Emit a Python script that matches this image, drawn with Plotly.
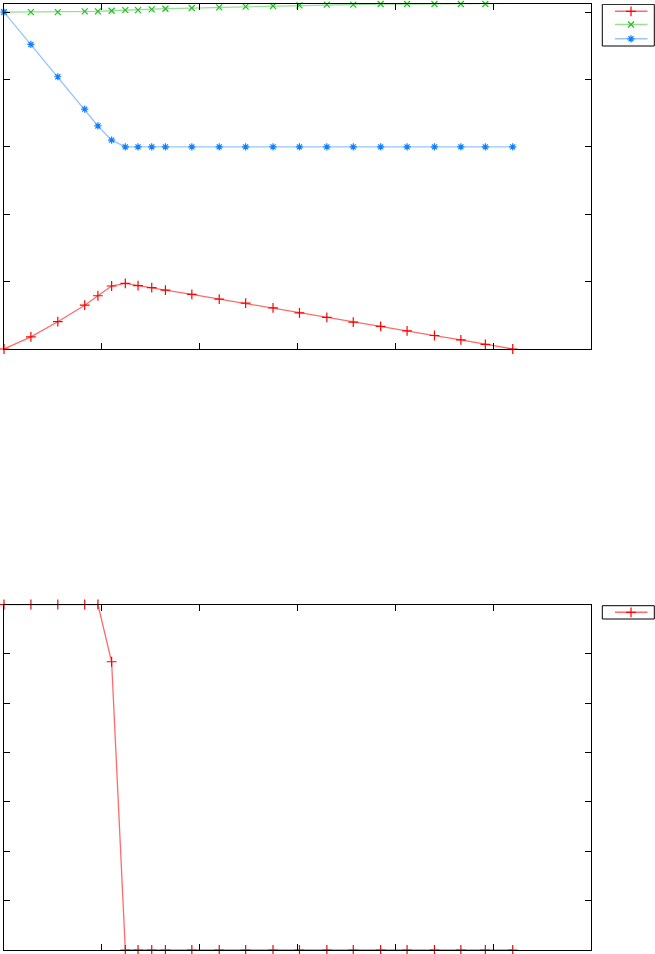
import plotly.graph_objects as go

x = [0, 0.275, 0.55, 0.825, 0.96, 1.1, 1.24, 1.37, 1.51, 1.65, 1.92, 2.2,
     2.47, 2.75, 3.02, 3.3, 3.57, 3.85, 4.12, 4.4, 4.67, 4.92, 5.2]

red_top = [0, 0.18, 0.405, 0.65, 0.79, 0.935, 0.975, 0.94, 0.91, 0.875, 0.81, 0.74,
           0.68, 0.61, 0.535, 0.47, 0.40, 0.335, 0.27, 0.20, 0.135, 0.07, 0.0]
green_top = [5.0, 5.0, 5.0, 5.01, 5.01, 5.02, 5.03, 5.03, 5.04, 5.05, 5.06, 5.07,
             5.08, 5.09, 5.10, 5.11, 5.11, 5.12, 5.12, 5.12, 5.12, 5.12, 5.13]
blue_top = [5.0, 4.52, 4.04, 3.56, 3.31, 3.10, 3.0, 3.0, 3.0, 3.0, 3.0, 3.0,
            3.0, 3.0, 3.0, 3.0, 3.0, 3.0, 3.0, 3.0, 3.0, 3.0, 3.0]
red_bottom = [7, 7, 7, 7, 7, 5.84, 0, 0, 0, 0, 0, 0,
              0, 0, 0, 0, 0, 0, 0, 0, 0, 0, 0]

RED_L, RED_M = "rgba(255,70,70,0.8)", "#ff0000"
GRN_L, GRN_M = "rgba(60,200,60,0.55)", "#20c020"
BLU_L, BLU_M = "rgba(40,140,255,0.5)", "#1080ff"

W, H = 655, 954
L, R, T, B = 4, 0, 4, 4
pw, ph = W - L - R, H - T - B
main_x_dom = [0, (591 - L) / pw]
top_dom = [(950 - 349) / ph, 1.0]
bot_dom = [0.0, (950 - 604.5) / ph]
leg_x_dom = [(598 - L) / pw, 1.0]

fig = go.Figure()

def add(xs, ys, lc, mc, symbol, xa, ya, size):
    fig.add_trace(go.Scatter(
        x=xs, y=ys, xaxis=xa, yaxis=ya, mode="lines+markers", showlegend=False,
        line=dict(color=lc, width=1.3),
        marker=dict(symbol=symbol, size=size, color=mc, line=dict(color=mc, width=1.2)),
        cliponaxis=False,
    ))

add(x, red_top, RED_L, RED_M, "cross-thin", "x", "y", 7)
add(x, green_top, GRN_L, GRN_M, "x-thin", "x", "y", 6)
add(x, blue_top, BLU_L, BLU_M, "asterisk", "x", "y", 6)
add(x, red_bottom, RED_L, RED_M, "cross-thin", "x2", "y2", 7)

# legend samples (pixel-like coordinates inside the legend panels)
leg_x0 = 4 + leg_x_dom[0] * pw
def lx(px):
    return px - leg_x0

def legend_item(py, lc, mc, symbol, size, xa, ya):
    fig.add_trace(go.Scatter(
        x=[lx(615), lx(647.5)], y=[py, py], xaxis=xa, yaxis=ya, mode="lines",
        line=dict(color=lc, width=1.6), showlegend=False, hoverinfo="skip"))
    fig.add_trace(go.Scatter(
        x=[lx(631)], y=[py], xaxis=xa, yaxis=ya, mode="markers", showlegend=False,
        marker=dict(symbol=symbol, size=size, color=mc, line=dict(color=mc, width=1.2)),
        hoverinfo="skip", cliponaxis=False))

legend_item(11.3 - 4, RED_L, RED_M, "cross-thin", 7, "x3", "y3")
legend_item(24.5 - 4, GRN_L, GRN_M, "x-thin", 6, "x3", "y3")
legend_item(38.8 - 4, BLU_L, BLU_M, "asterisk", 6, "x3", "y3")
legend_item(612.3 - 604.5, RED_L, RED_M, "cross-thin", 7, "x4", "y4")

axis_common = dict(showticklabels=False, showgrid=False, zeroline=False,
                   showline=True, linecolor="black", linewidth=1, mirror="ticks",
                   ticks="inside", ticklen=6, tickcolor="black", tickwidth=1)
hidden = dict(visible=False, showgrid=False, zeroline=False, fixedrange=True)

leg_w = W - leg_x0
fig.update_layout(
    width=W, height=H,
    margin=dict(l=L, r=R, t=T, b=B, pad=0),
    plot_bgcolor="white", paper_bgcolor="white",
    showlegend=False,
    xaxis=dict(domain=main_x_dom, range=[0, 6], dtick=1, tick0=0, anchor="y", **axis_common),
    yaxis=dict(domain=top_dom, range=[0, 5.12], dtick=1, tick0=0, anchor="x", **axis_common),
    xaxis2=dict(domain=main_x_dom, range=[0, 6], dtick=1, tick0=0, anchor="y2", **axis_common),
    yaxis2=dict(domain=bot_dom, range=[0, 7], dtick=1, tick0=0, anchor="x2", **axis_common),
    xaxis3=dict(domain=leg_x_dom, range=[0, leg_w], anchor="y3", **hidden),
    yaxis3=dict(domain=top_dom, range=[345, 0], anchor="x3", **hidden),
    xaxis4=dict(domain=leg_x_dom, range=[0, leg_w], anchor="y4", **hidden),
    yaxis4=dict(domain=bot_dom, range=[345.5, 0], anchor="x4", **hidden),
    shapes=[
        dict(type="rect", xref="x3", yref="y3", x0=lx(602.3), x1=lx(654.3), y0=0.3, y1=42,
             line=dict(color="black", width=1), layer="below"),
        dict(type="rect", xref="x4", yref="y4", x0=lx(602.3), x1=lx(654.3), y0=1.2, y1=14.5,
             line=dict(color="black", width=1), layer="below"),
    ],
)

fig.write_html("out.html", config={"displayModeBar": False},
               post_script="document.body.style.margin='0';document.body.style.padding='0';")
